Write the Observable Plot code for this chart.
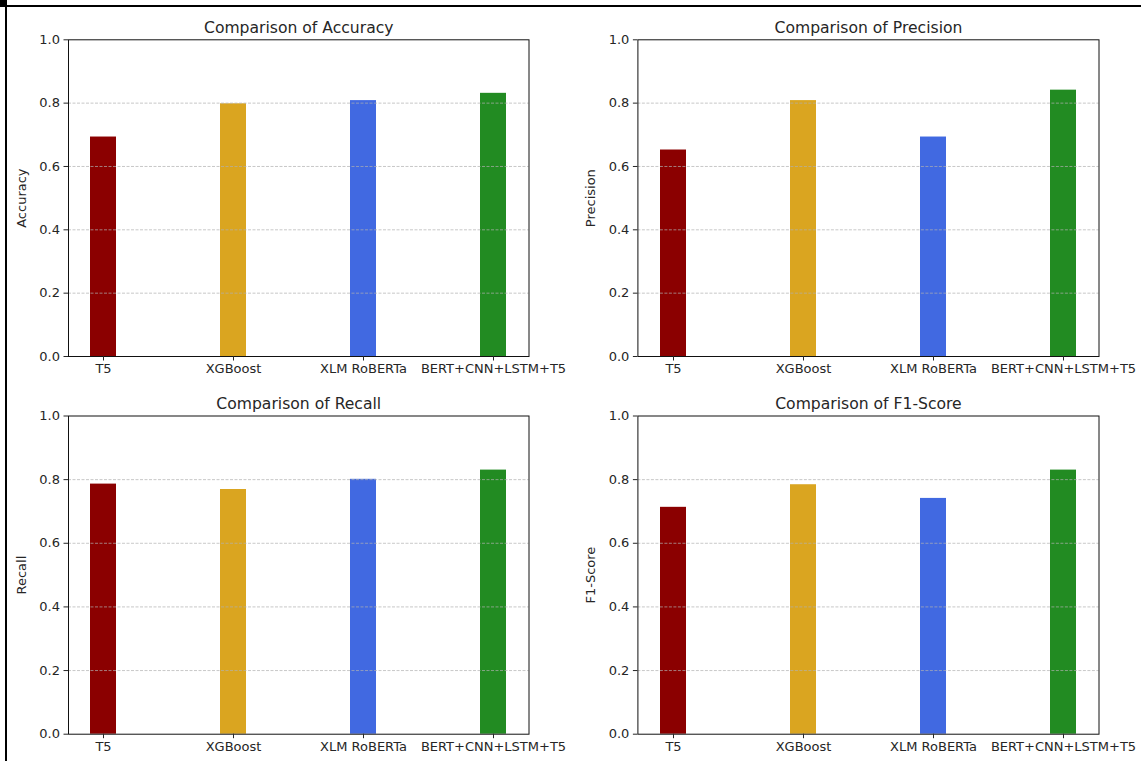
<!DOCTYPE html>
<html>
<head>
<meta charset="utf-8">
<script src="https://cdn.jsdelivr.net/npm/d3@7"></script>
<script src="https://cdn.jsdelivr.net/npm/@observablehq/plot@0.6"></script>
<style>
  html, body { margin: 0; padding: 0; background: #fff; }
  #fig { position: relative; width: 1141px; height: 761px; overflow: hidden; background: #fff; }
  .panel { position: absolute; }
  .deco { position: absolute; background: #000; }
</style>
</head>
<body>
<div id="fig">
  <div class="deco" style="left:0;top:0;width:7px;height:7px;"></div>
  <div class="deco" style="left:0;top:5px;width:1141px;height:2px;"></div>
  <div class="deco" style="left:5px;top:0;width:2px;height:761px;"></div>
</div>
<script>
const models = ["T5", "XGBoost", "XLM RoBERTa", "BERT+CNN+LSTM+T5"];
const colors = ["#8B0000", "#DAA520", "#4169E1", "#228B22"];
const accuracy = [0.693, 0.798, 0.808, 0.831];
const precision = [0.652, 0.808, 0.693, 0.841];
const recall = [0.786, 0.769, 0.801, 0.830];
const f1score = [0.713, 0.784, 0.741, 0.830];
const yTicks = [0.0, 0.2, 0.4, 0.6, 0.8, 1.0];
const gridTicks = [0.2, 0.4, 0.6, 0.8];
const metricNames = ["Accuracy", "Precision", "Recall", "F1-Score"];
const metricValues = [accuracy, precision, recall, f1score];

// panel boxes: left, top, width, height and margins so the axes land where the reference has them
const panels = [
  {left: 0,   top: 0,   width: 570, height: 380, mL: 68,   mR: 41.5, mT: 39.3, mB: 24},
  {left: 570, top: 0,   width: 571, height: 380, mL: 67.4, mR: 42.5, mT: 39.3, mB: 24},
  {left: 0,   top: 380, width: 570, height: 381, mL: 68,   mR: 41.5, mT: 35.5, mB: 27.3},
  {left: 570, top: 380, width: 571, height: 381, mL: 67.4, mR: 42.5, mT: 35.5, mB: 27.3}
];

const fig = document.getElementById("fig");
const fmt = d3.format(".1f");

metricNames.forEach((name, i) => {
  const data = models.map((m, j) => ({model: m, value: metricValues[i][j]}));
  const p = panels[i];
  const chart = Plot.plot({
    width: p.width,
    height: p.height,
    marginLeft: p.mL,
    marginRight: p.mR,
    marginTop: p.mT,
    marginBottom: p.mB,
    style: {fontFamily: "'DejaVu Sans', sans-serif", fontSize: "13px", color: "#262626", background: "transparent", overflow: "visible"},
    x: {type: "band", domain: models, paddingInner: 0.8, paddingOuter: 0.16, align: 0.5, label: null},
    y: {domain: [0, 1], label: name},
    color: {type: "ordinal", domain: models, range: colors},
    marks: [
      Plot.barY(data, {x: "model", y: "value", fill: "model"}),
      Plot.ruleY(gridTicks, {stroke: "#b0b0b0", strokeOpacity: 0.7, strokeDasharray: "3,1.5", strokeWidth: 1}),
      Plot.frame({stroke: "#111", strokeWidth: 1}),
      Plot.axisX({tickSize: 4.5, tickPadding: 3, label: null, fontSize: 13}),
      Plot.axisY({ticks: yTicks, tickFormat: fmt, tickSize: 4.5, tickPadding: 4, fontSize: 13,
                  label: name, labelAnchor: "center", labelArrow: "none", labelOffset: 52}),
      Plot.text([`Comparison of ${name}`], {frameAnchor: "top", dy: -7, lineAnchor: "bottom", fontSize: 15.6, fill: "#262626"})
    ]
  });
  chart.classList.add("panel");
  chart.style.left = p.left + "px";
  chart.style.top = p.top + "px";
  fig.appendChild(chart);
});
</script>
</body>
</html>
